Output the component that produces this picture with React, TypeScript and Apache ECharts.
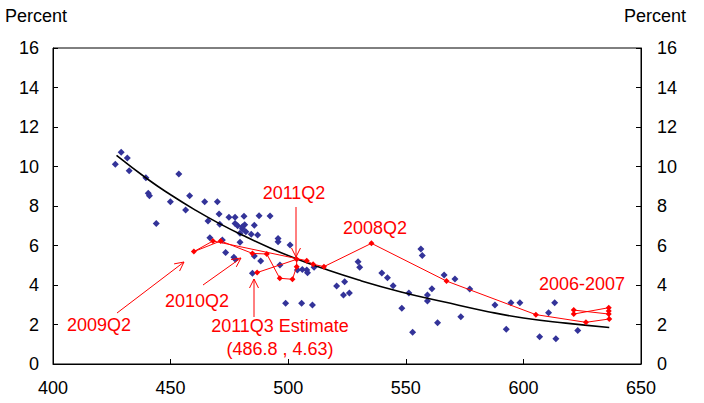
import React, { useEffect, useRef } from "react";
import * as echarts from "echarts";

// Blue scatter (historical quarters)
const blueX = [429.0, 431.6, 426.5, 432.4, 439.5, 453.5, 440.5, 441.0, 449.9, 458.1, 456.4, 464.5, 469.9, 443.9, 465.9, 470.6, 470.9, 466.7, 474.8, 477.4, 481.2, 477.4, 478.5, 480.5, 482.0, 479.5, 481.5, 480.5, 487.6, 492.3, 485.6, 484.3, 487.0, 495.7, 495.7, 500.8, 472.0, 479.5, 473.4, 476.9, 477.5, 485.6, 488.3, 484.8, 496.5, 503.9, 506.0, 507.9, 508.2, 511.0, 498.9, 505.7, 510.3, 529.7, 530.4, 520.6, 524.0, 523.5, 526.0, 539.8, 542.2, 544.6, 551.3, 548.3, 556.4, 557.0, 566.3, 561.1, 559.2, 559.2, 552.9, 563.5, 570.9, 577.2, 573.4, 587.9, 594.7, 598.5, 592.7, 606.9, 613.8, 610.7, 613.3, 623.1];
const blueY = [10.72, 10.43, 10.11, 9.79, 9.43, 9.62, 8.65, 8.52, 8.22, 8.52, 7.80, 8.22, 8.22, 7.12, 7.24, 7.59, 7.07, 6.39, 7.43, 7.43, 7.48, 7.12, 7.00, 6.85, 6.70, 6.62, 7.05, 6.95, 7.51, 7.49, 7.02, 6.57, 6.53, 6.36, 6.19, 6.03, 6.28, 6.16, 5.64, 5.40, 5.30, 5.47, 5.22, 4.59, 5.01, 4.76, 4.79, 4.76, 4.62, 4.90, 3.07, 3.07, 2.99, 5.18, 4.90, 3.95, 4.17, 3.49, 3.59, 4.61, 4.37, 3.96, 3.59, 2.82, 5.82, 5.50, 4.51, 3.81, 3.49, 3.19, 1.61, 2.09, 4.30, 3.80, 2.39, 2.99, 3.10, 3.10, 1.76, 1.38, 1.28, 2.60, 3.10, 1.69];

// Red path (2006 to 2011Q3)
const redX = [636.3, 636.3, 621.4, 621.4, 636.3, 636.5, 626.6, 605.3, 567.3, 535.4, 515.2, 510.6, 507.9, 468.0, 459.9, 471.3, 484.8, 490.9, 496.4, 501.8, 503.6, 503.6, 486.8];
const redY = [2.68, 2.85, 2.53, 2.73, 2.53, 2.28, 2.11, 2.50, 4.20, 6.11, 4.93, 5.05, 5.23, 6.23, 5.69, 6.23, 5.60, 5.57, 4.34, 4.29, 4.93, 5.30, 4.63];

// Fitted curve
const curveX = [427, 440, 450, 460, 470, 482, 493, 503, 514, 530, 548, 566, 585, 600, 618, 636.5];
const curveY = [10.56, 9.38, 8.57, 7.83, 7.16, 6.44, 5.84, 5.35, 4.87, 4.25, 3.65, 3.15, 2.65, 2.33, 2.07, 1.85];

const FONT = "'Liberation Sans', Arial, sans-serif";
const RED = "#ff0000";
const BLUE = "#333399";

function arrow(fx: number, fy: number, tx: number, ty: number): any[] {
  const dx = tx - fx, dy = ty - fy;
  const len = Math.sqrt(dx * dx + dy * dy);
  const ux = dx / len, uy = dy / len;
  const nx = -uy, ny = ux;
  const h = 9, w = 4.5;
  return [
    { type: "line", shape: { x1: fx, y1: fy, x2: tx, y2: ty }, style: { stroke: RED, lineWidth: 1 }, z: 20 },
    {
      type: "polyline",
      shape: { points: [[tx - h * ux + w * nx, ty - h * uy + w * ny], [tx, ty], [tx - h * ux - w * nx, ty - h * uy - w * ny]] },
      style: { stroke: RED, lineWidth: 1, fill: null },
      z: 20,
    },
  ];
}

function label(text: string, x: number, y: number, color = RED, align = "center"): any {
  return {
    type: "text",
    style: { text, x, y, fill: color, font: `18px ${FONT}`, align, verticalAlign: "middle" },
    z: 20,
  };
}

export default function App() {
  const ref = useRef<HTMLDivElement>(null);
  useEffect(() => {
    if (!ref.current) return;
    const chart = echarts.init(ref.current, null, { renderer: "svg" });
    const axisLabel = { color: "#000", fontSize: 18, fontFamily: FONT };
    const option: any = {
      animation: false,
      backgroundColor: "#fff",
      grid: { left: 53, right: 63, top: 48, bottom: 39, show: true, borderColor: "#000", borderWidth: 1, backgroundColor: "transparent" },
      xAxis: {
        type: "value", min: 400, max: 650, interval: 50,
        axisLine: { show: true, lineStyle: { color: "#000", width: 1 } },
        axisTick: { show: true, inside: true, length: 5, lineStyle: { color: "#000" } },
        axisLabel: { ...axisLabel, margin: 15 },
        splitLine: { show: false },
      },
      yAxis: [
        {
          type: "value", min: 0, max: 16, interval: 2, position: "left",
          axisLine: { show: true, lineStyle: { color: "#000", width: 1 } },
          axisTick: { show: true, inside: true, length: 5, lineStyle: { color: "#000" } },
          axisLabel: { ...axisLabel, margin: 14 },
          splitLine: { show: false },
        },
        {
          type: "value", min: 0, max: 16, interval: 2, position: "right",
          axisLine: { show: true, lineStyle: { color: "#000", width: 1 } },
          axisTick: { show: true, inside: true, length: 5, lineStyle: { color: "#000" } },
          axisLabel: { ...axisLabel, margin: 16 },
          splitLine: { show: false },
        },
      ],
      series: [
        {
          type: "scatter", symbol: "diamond", symbolSize: 7,
          itemStyle: { color: BLUE, opacity: 1 },
          data: blueX.map((x, i) => [x, blueY[i]]),
          z: 2,
        },
        {
          type: "line", smooth: true, showSymbol: false, symbol: "none",
          lineStyle: { color: "#000", width: 1.6 },
          data: curveX.map((x, i) => [x, curveY[i]]),
          z: 3,
        },
        {
          type: "line", symbol: "diamond", symbolSize: 6, showSymbol: true,
          lineStyle: { color: RED, width: 1 },
          itemStyle: { color: RED, opacity: 1 },
          data: redX.map((x, i) => [x, redY[i]]),
          z: 4,
        },
      ],
      graphic: [
        label("Percent", 5, 16, "#000", "left"),
        label("Percent", 686, 16, "#000", "right"),
        label("2011Q2", 294, 193),
        label("2008Q2", 375, 228),
        label("2006-2007", 582, 284),
        label("2009Q2", 99, 325),
        label("2010Q2", 197, 301),
        label("2011Q3 Estimate", 280, 326),
        label("(486.8 , 4.63)", 280, 349),
        ...arrow(117, 313, 184, 262),
        ...arrow(203, 285, 241, 258),
        ...arrow(254, 317, 254, 279),
        ...arrow(296, 207, 296, 257),
      ],
    };
    chart.setOption(option);
    return () => chart.dispose();
  }, []);
  return <div ref={ref} style={{ width: 704, height: 403, position: "fixed", left: 0, top: 0 }} />;
}
